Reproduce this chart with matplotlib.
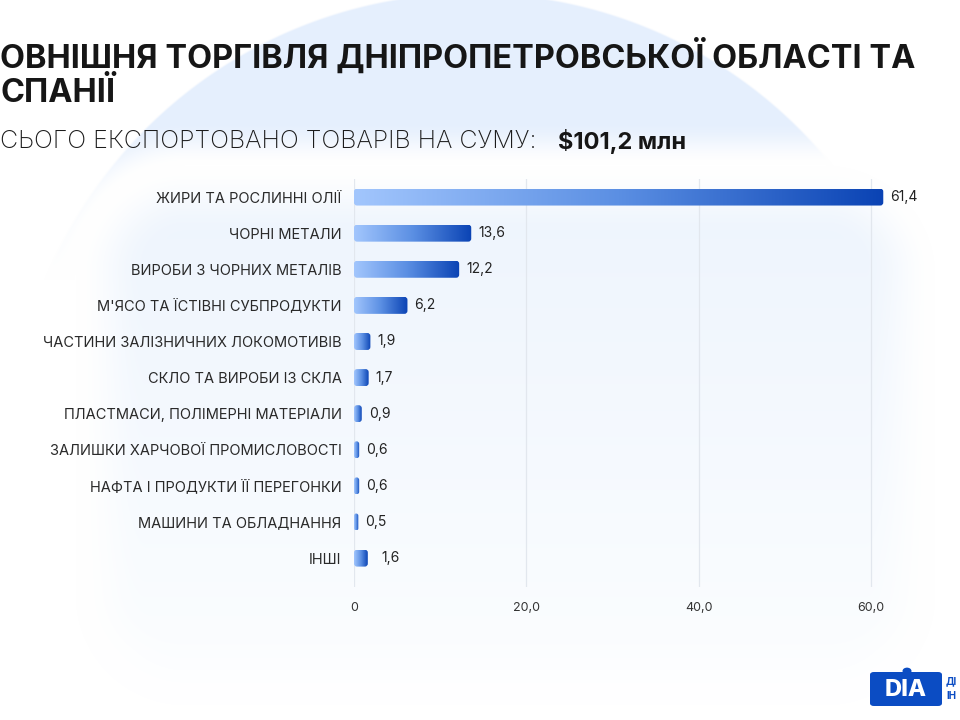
import numpy as np
import matplotlib

matplotlib.use("Agg")
import matplotlib.pyplot as plt
from matplotlib.patches import FancyBboxPatch, Circle
from matplotlib.colors import LinearSegmentedColormap, to_rgb

categories = [
    "ЖИРИ ТА РОСЛИННІ ОЛІЇ",
    "ЧОРНІ МЕТАЛИ",
    "ВИРОБИ З ЧОРНИХ МЕТАЛІВ",
    "М'ЯСО ТА ЇСТІВНІ СУБПРОДУКТИ",
    "ЧАСТИНИ ЗАЛІЗНИЧНИХ ЛОКОМОТИВІВ",
    "СКЛО ТА ВИРОБИ ІЗ СКЛА",
    "ПЛАСТМАСИ, ПОЛІМЕРНІ МАТЕРІАЛИ",
    "ЗАЛИШКИ ХАРЧОВОЇ ПРОМИСЛОВОСТІ",
    "НАФТА І ПРОДУКТИ ЇЇ ПЕРЕГОНКИ",
    "МАШИНИ ТА ОБЛАДНАННЯ",
    "ІНШІ",
]
values = [61.4, 13.6, 12.2, 6.2, 1.9, 1.7, 0.9, 0.6, 0.6, 0.5, 1.6]
x_ticks = [0, 20, 40, 60]
x_tick_labels = ["0", "20,0", "40,0", "60,0"]

title_line1 = "ОВНІШНЯ ТОРГІВЛЯ ДНІПРОПЕТРОВСЬКОЇ ОБЛАСТІ ТА"
title_line2 = "СПАНІЇ"
subtitle = "СЬОГО ЕКСПОРТОВАНО ТОВАРІВ НА СУМУ:"
total = "$101,2 млн"

FONT = ["Inter", "DejaVu Sans"]
W, H = 960, 720


def smooth(a, b, d):
    # 0 at d=a, 1 at d=b
    s = np.clip((d - a) / (b - a), 0, 1)
    return s * s * (3 - 2 * s)


fig = plt.figure(figsize=(9.6, 7.2), dpi=100)
fig.patch.set_facecolor("white")

# background: pale circle (fading out downwards) behind a soft rounded panel
yy, xx = np.mgrid[0:H, 0:W].astype(float)
img = np.ones((H, W, 3))
circ_col = np.array(to_rgb("#e5effd"))
d_circ = np.hypot(xx - 472, yy - 455) - 462
m = (smooth(1.5, -1.5, d_circ) * smooth(280, 190, yy))[..., None]
img = img * (1 - m) + circ_col * m

cx, cy, hw, hh, rr = 505, 435, 430, 270, 110
qx = np.abs(xx - cx) - (hw - rr)
qy = np.abs(yy - cy) - (hh - rr)
d_rect = np.hypot(np.maximum(qx, 0), np.maximum(qy, 0)) + np.minimum(np.maximum(qx, qy), 0) - rr
halo = smooth(45, 0, d_rect)[..., None]
img = img * (1 - halo) + halo
top_c = np.array(to_rgb("#edf4fd"))
bot_c = np.array(to_rgb("#fbfdff"))
t = np.clip((yy - 170) / 480.0, 0, 1)[..., None]
panel = top_c * (1 - t) + bot_c * t
pm = smooth(0, -70, d_rect)[..., None]
img = img * (1 - pm) + panel * pm

bg = fig.add_axes([0, 0, 1, 1], zorder=-10)
bg.imshow(img, extent=(0, W, H, 0), aspect="auto", interpolation="bilinear")
bg.set_xlim(0, W)
bg.set_ylim(H, 0)
bg.axis("off")

# main bar axes (pixel placement)
px_per_unit = 8.62
ax_left, ax_bottom_px, ax_top_px = 354, 587, 179
x_max = 68
ax = fig.add_axes([ax_left / W, (H - ax_bottom_px) / H,
                   x_max * px_per_unit / W, (ax_bottom_px - ax_top_px) / H])
ax.patch.set_alpha(0)

pos = np.arange(len(categories))
bar_h = 0.47
bars = ax.barh(pos, values, height=bar_h, color="none", edgecolor="none")
ax.set_xlim(0, x_max)
ax.set_ylim(10.8, -0.5)

cmap = LinearSegmentedColormap.from_list("bar", ["#a2c6fd", "#5b8fe3", "#0a43b4"])
grad = np.linspace(0, 1, 256).reshape(1, -1)
aspect_fix = px_per_unit / ((ax_bottom_px - ax_top_px) / 11.3)
for rect in bars:
    x0, y0 = rect.get_x(), rect.get_y()
    w, h = rect.get_width(), rect.get_height()
    r = min(0.35, w / 2)
    patch = FancyBboxPatch((x0, y0), w, h,
                           boxstyle=f"round,pad=0,rounding_size={r}",
                           mutation_aspect=aspect_fix,
                           facecolor="none", edgecolor="none")
    ax.add_patch(patch)
    im = ax.imshow(grad, cmap=cmap, extent=(x0, x0 + w, y0 + h, y0),
                   aspect="auto", zorder=3, interpolation="bilinear")
    im.set_clip_path(patch)

ax.set_xlim(0, x_max)
ax.set_ylim(10.8, -0.5)

for i, v in enumerate(values):
    gap = 10 if i == len(values) - 1 else 5
    ax.annotate(f"{v:.1f}".replace(".", ","), (v, i), xytext=(gap, 0),
                textcoords="offset points", va="center", ha="left",
                fontsize=10, color="#222222", family=FONT)

ax.set_yticks(pos)
ax.set_yticklabels(categories, fontsize=10.5, color="#2a2a2a", family=FONT)
ax.set_xticks(x_ticks)
ax.set_xticklabels(x_tick_labels, fontsize=9, color="#333333", family=FONT)
ax.tick_params(axis="y", length=0, pad=9)
ax.tick_params(axis="x", length=0, pad=11)
ax.grid(axis="x", color="#e2e7ee", linewidth=0.9, zorder=0)
ax.set_axisbelow(True)
for s in ax.spines.values():
    s.set_visible(False)

# titles
fig.text(0 / W, 1 - 57 / H, title_line1, fontsize=23.4, fontweight="bold",
         color="#161616", family=FONT, va="center", ha="left")
fig.text(0 / W, 1 - 94 / H, title_line2, fontsize=23.4, fontweight="bold",
         color="#161616", family=FONT, va="center", ha="left")
fig.text(0 / W, 1 - 141 / H, subtitle, fontsize=18, fontweight="light",
         color="#1c1c1c", family=FONT, va="center", ha="left")
fig.text(558 / W, 1 - 141 / H, total, fontsize=17, fontweight="bold",
         color="#161616", family=FONT, va="center", ha="left")

# logo
logo = FancyBboxPatch((870 / W, 1 - 706 / H), 72 / W, 34 / H,
                      boxstyle="round,pad=0,rounding_size=0.004",
                      transform=fig.transFigure, facecolor="#0b4cc3",
                      edgecolor="none")
fig.patches.append(logo)
fig.text(906 / W, 1 - 690 / H, "DIA", fontsize=17, fontweight="heavy",
         color="white", family=FONT, va="center", ha="center")
fig.patches.append(Circle((907 / W, 1 - 671 / H), 4.5 / W,
                          transform=fig.transFigure, facecolor="#0b4cc3",
                          edgecolor="none"))
fig.text(946 / W, 1 - 681 / H, "ДІ", fontsize=7, fontweight="bold",
         color="#0b4cc3", family=FONT, va="center", ha="left")
fig.text(946 / W, 1 - 696 / H, "ІН", fontsize=7, fontweight="bold",
         color="#0b4cc3", family=FONT, va="center", ha="left")

fig.savefig("out.png", dpi=100)
